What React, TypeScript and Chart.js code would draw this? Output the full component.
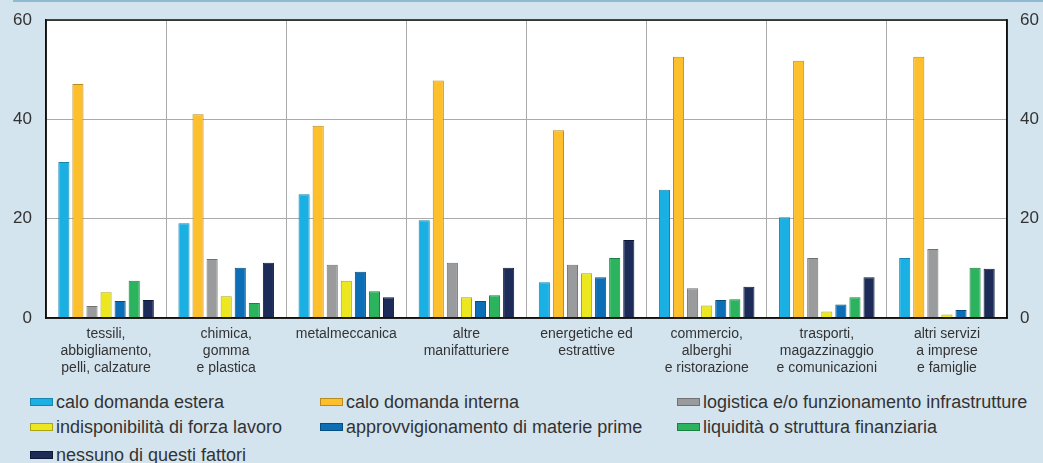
import React, { useEffect, useRef } from "react";
import { Chart, registerables } from "chart.js";

Chart.register(...registerables);

const categories: string[][] = [
  ["tessili,", "abbigliamento,", "pelli, calzature"],
  ["chimica,", "gomma", "e plastica"],
  ["metalmeccanica"],
  ["altre", "manifatturiere"],
  ["energetiche ed", "estrattive"],
  ["commercio,", "alberghi", "e ristorazione"],
  ["trasporti,", "magazzinaggio", "e comunicazioni"],
  ["altri servizi", "a imprese", "e famiglie"],
];

const seriesNames = [
  "calo domanda estera",
  "calo domanda interna",
  "logistica e/o funzionamento infrastrutture",
  "indisponibilità di forza lavoro",
  "approvvigionamento di materie prime",
  "liquidità o struttura finanziaria",
  "nessuno di questi fattori",
];

const caloEstera = [31.4, 19.1, 24.9, 19.7, 7.2, 25.8, 20.3, 12.1];
const caloInterna = [47.1, 41.0, 38.7, 47.8, 37.8, 52.6, 51.8, 52.6];
const logistica = [2.4, 11.9, 10.7, 11.1, 10.7, 6.0, 12.1, 13.9];
const forzaLavoro = [5.2, 4.4, 7.5, 4.2, 9.0, 2.5, 1.3, 0.7];
const materiePrime = [3.4, 10.1, 9.3, 3.4, 8.2, 3.6, 2.7, 1.6];
const liquidita = [7.5, 3.0, 5.4, 4.6, 12.1, 3.8, 4.2, 10.1];
const nessuno = [3.6, 11.1, 4.2, 10.1, 15.7, 6.3, 8.2, 9.9];

const yTicks = [0, 20, 40, 60];

const seriesValues = [caloEstera, caloInterna, logistica, forzaLavoro, materiePrime, liquidita, nessuno];
const fills = ["#1bb0e4", "#fdbf2b", "#999b9c", "#ece71f", "#0b6eb6", "#2bb35e", "#1c2b58"];
const borders = ["#1585ad", "#b88a22", "#6f7172", "#a9a515", "#074d80", "#1e7f43", "#0f1836"];

const FONT = "'Liberation Sans', Arial, Helvetica, sans-serif";
const BG = "#d3e4ee";

const frame = {
  id: "frame",
  beforeDraw(chart: any) {
    const { ctx, chartArea } = chart;
    ctx.save();
    ctx.fillStyle = "#ffffff";
    ctx.fillRect(chartArea.left, chartArea.top, chartArea.right - chartArea.left, chartArea.bottom - chartArea.top);
    ctx.restore();
  },
  afterDatasetsDraw(chart: any) {
    const { ctx, chartArea } = chart;
    ctx.save();
    ctx.strokeStyle = "#111";
    ctx.lineWidth = 1.5;
    ctx.strokeRect(chartArea.left, chartArea.top, chartArea.right - chartArea.left, chartArea.bottom - chartArea.top);
    ctx.restore();
  },
};

export default function App() {
  const ref = useRef<HTMLCanvasElement>(null);
  useEffect(() => {
    document.body.style.margin = "0";
    document.body.style.background = BG;
    const chart = new Chart(ref.current!, {
      type: "bar",
      data: {
        labels: categories,
        datasets: seriesValues.map((vals, i) => ({
          label: seriesNames[i],
          data: vals,
          backgroundColor: fills[i],
          borderColor: borders[i],
          borderWidth: 1,
          categoryPercentage: 0.82,
          barPercentage: 0.79,
          yAxisID: "y",
        })),
      },
      options: {
        responsive: false,
        animation: false,
        layout: { padding: { top: 20, left: 0, right: 0, bottom: 0 } },
        plugins: { legend: { display: false }, tooltip: { enabled: false } },
        scales: {
          x: {
            grid: { color: "#aaaaaa", offset: true, drawTicks: false, lineWidth: 1 },
            border: { color: "#111", width: 1.5 },
            ticks: {
              color: "#333",
              font: { family: FONT, size: 14, lineHeight: 1.2 },
              padding: 8,
              maxRotation: 0,
              autoSkip: false,
            },
            afterFit: (s: any) => {
              s.height = 67;
              s.paddingLeft = 0;
              s.paddingRight = 0;
            },
          },
          y: {
            position: "left",
            min: 0,
            max: 60,
            afterBuildTicks: (s: any) => {
              s.ticks = yTicks.map((v) => ({ value: v }));
            },
            grid: { color: "#aaaaaa", drawTicks: false },
            border: { color: "#111", width: 1.5 },
            ticks: { color: "#333", font: { family: FONT, size: 17 }, padding: 14 },
            afterFit: (s: any) => {
              s.width = 46;
              s.paddingTop = 0;
              s.paddingBottom = 0;
            },
          },
          y2: {
            position: "right",
            min: 0,
            max: 60,
            afterBuildTicks: (s: any) => {
              s.ticks = yTicks.map((v) => ({ value: v }));
            },
            grid: { display: false, drawTicks: false },
            border: { color: "#111", width: 1.5 },
            ticks: { color: "#333", font: { family: FONT, size: 17 }, padding: 13 },
            afterFit: (s: any) => {
              s.width = 36;
              s.paddingTop = 0;
              s.paddingBottom = 0;
            },
          },
        },
      },
      plugins: [frame],
    } as any);
    return () => chart.destroy();
  }, []);

  const legendPos = [
    [30, 402],
    [320, 402],
    [677, 402],
    [30, 427],
    [320, 427],
    [677, 427],
    [30, 455],
  ];

  return (
    <div style={{ position: "relative", width: 1043, height: 463, background: BG, overflow: "hidden", fontFamily: FONT }}>
      <div style={{ position: "absolute", left: 13, right: 0, top: 0, height: 2, background: "#8fbad4" }} />
      <canvas ref={ref} width={1043} height={385} style={{ position: "absolute", left: 0, top: 0 }} />
      {seriesNames.map((name, i) => (
        <div
          key={name}
          style={{
            position: "absolute",
            left: legendPos[i][0],
            top: legendPos[i][1] - 11,
            height: 22,
            display: "flex",
            alignItems: "center",
            whiteSpace: "nowrap",
            fontSize: 18,
            color: "#333",
          }}
        >
          <span
            style={{
              display: "inline-block",
              width: 21,
              height: 6,
              background: fills[i],
              border: `1px solid ${borders[i]}`,
              marginRight: 3,
            }}
          />
          <span>{name}</span>
        </div>
      ))}
    </div>
  );
}
